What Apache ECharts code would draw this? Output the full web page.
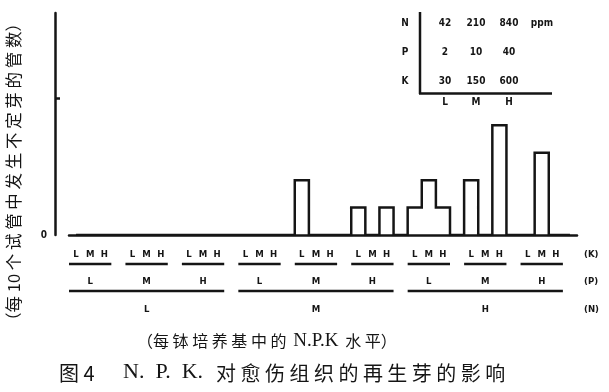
<!DOCTYPE html>
<html><head><meta charset="utf-8">
<script src="https://cdn.jsdelivr.net/npm/echarts@6/dist/echarts.min.js"></script>
<style>html,body{margin:0;padding:0;background:#fff}#c{width:609px;height:392px}</style>
</head><body><div id="c"></div>
<script>
// ---- data ----
const nLevelLabels = ['L', 'M', 'H'];
const pLevelLabels = ['L', 'M', 'H'];
const kLevelLabels = ['L', 'M', 'H'];
// tubes (of 10) forming adventitious buds; order P(L,M,H) x K(L,M,H)
const shootsNL = [0, 0, 0,  0, 0, 0,  0, 0, 0];
const shootsNM = [0, 0, 0,  2, 0, 0,  1, 0, 1];
const shootsNH = [1, 2, 1,  2, 0, 4,  0, 3, 0];
const nConc = ['42', '210', '840'];
const pConc = ['2', '10', '40'];
const kConc = ['30', '150', '600'];
const concUnit = 'ppm';
const yTickValues = [5];
const yLabelValues = [0];
const yName = '（每 10 个 试 管 中 发 生 不 定 芽 的 管 数）';
const subtitle = '{c|（每 钵 培 养 基 中 的}  {l|N.P.K}  {c|水 平）}';
const titleFig = '图 4';
const titleNPK = 'N.  P.  K.';
const titleText = '对 愈 伤 组 织 的 再 生 芽 的 影 响';

// ---- build categories (3 K levels per P group + spacer) ----
const byN = [shootsNL, shootsNM, shootsNH];
const cats = [], vals = [];
byN.forEach(arr => {
  for (let p = 0; p < 3; p++) {
    for (let k = 0; k < 3; k++) { cats.push(kLevelLabels[k]); vals.push(arr[p * 3 + k]); }
    cats.push(''); vals.push(0);
  }
});

const INK = '#151515';
const CJK = '"Noto Sans CJK SC", sans-serif';
const COND = '"DejaVu Sans Condensed", "DejaVu Sans", sans-serif';
const SERIF = '"Liberation Serif", "DejaVu Serif", serif';

const chart = echarts.init(document.getElementById('c'), null, {renderer: 'canvas'});
chart.setOption({
  backgroundColor: '#fff',
  animation: false,
  grid: {left: 69, right: 32, top: 13, bottom: 157},
  xAxis: {
    type: 'category', data: cats, boundaryGap: true,
    axisLine: {lineStyle: {color: INK, width: 2.5}},
    axisTick: {show: false},
    axisLabel: {interval: 0, margin: 15, color: INK, fontSize: 9.5, fontWeight: 'bold', fontFamily: COND}
  },
  yAxis: {
    type: 'value', min: 0, max: 8.1, offset: 14,
    axisLine: {show: true, lineStyle: {color: INK, width: 2.5}},
    axisTick: {show: true, inside: true, length: 5, customValues: yTickValues, lineStyle: {color: INK, width: 2.5}},
    axisLabel: {customValues: yLabelValues, color: INK, fontSize: 10, fontWeight: 'bold', margin: 8, fontFamily: COND},
    splitLine: {show: false}
  },
  series: [{
    type: 'line', step: 'middle', data: vals, symbol: 'none', z: 3,
    lineStyle: {color: INK, width: 2.5, join: 'miter'}
  }]
});

// ---- annotation graphics positioned through the category scale ----
const px = i => chart.convertToPixel({xAxisIndex: 0}, i);
const catW = px(1) - px(0);
const g = [];
function txt(x, y, text, size, font, weight, align, extra) {
  return Object.assign({
    type: 'text', x: x, y: y, silent: true,
    style: {text: text, fontSize: size, fontFamily: font, fontWeight: weight || 'normal', fill: INK,
      align: align || 'center', textAlign: align || 'center', verticalAlign: 'middle', textVerticalAlign: 'middle'}
  }, extra || {});
}
function ln(x1, y1, x2, y2, w) {
  return {type: 'line', silent: true, shape: {x1: x1, y1: y1, x2: x2, y2: y2}, style: {stroke: INK, lineWidth: w || 2.5}};
}
const yKLine = 264, yPLab = 282, yPLine = 291, yNLab = 310;
for (let n = 0; n < 3; n++) {
  for (let p = 0; p < 3; p++) {
    const s = n * 12 + p * 4;
    g.push(ln(px(s) - catW / 2, yKLine, px(s + 2) + catW / 2, yKLine));
    g.push(txt(px(s + 1), yPLab, pLevelLabels[p], 9.5, COND, 'bold'));
  }
  g.push(ln(px(n * 12) - catW / 2, yPLine, px(n * 12 + 10) + catW / 2, yPLine));
  g.push(txt(px(n * 12 + 5), yNLab, nLevelLabels[n], 9.5, COND, 'bold'));
}
g.push(txt(584, 255, '(K)', 9.5, COND, 'bold', 'left'));
g.push(txt(584, yPLab, '(P)', 9.5, COND, 'bold', 'left'));
g.push(txt(584, yNLab, '(N)', 9.5, COND, 'bold', 'left'));

// inset table of concentrations
const colX = [445, 476, 509];
const rowY = [23, 52, 81];
g.push(ln(420, 12, 420, 94));
g.push(ln(419, 93.5, 552, 93.5));
[['N', nConc], ['P', pConc], ['K', kConc]].forEach((r, i) => {
  g.push(txt(405, rowY[i], r[0], 10, COND, 'bold'));
  r[1].forEach((v, j) => g.push(txt(colX[j], rowY[i], v, 10, COND, 'bold')));
});
g.push(txt(542, rowY[0], concUnit, 10, COND, 'bold'));
kLevelLabels.forEach((l, j) => g.push(txt(colX[j], 102, l, 10, COND, 'bold')));

// axis name, subtitle, caption
g.push(txt(14, 172, yName, 16.5, CJK, 'normal', 'center', {rotation: Math.PI / 2}));
g.push({
  type: 'text', x: 137, y: 341, silent: true,
  style: {text: subtitle, align: 'left', textAlign: 'left', verticalAlign: 'middle', textVerticalAlign: 'middle', fill: INK,
    rich: {c: {fontSize: 16, fontFamily: CJK, fill: INK}, l: {fontSize: 19, fontFamily: SERIF, fill: INK}}}
});
g.push(txt(59, 373, titleFig, 20, CJK, 'normal', 'left'));
g.push(txt(123, 372, titleNPK, 22, SERIF, 'normal', 'left'));
g.push(txt(216, 373, titleText, 20, CJK, 'normal', 'left'));

chart.setOption({graphic: {elements: g}});
</script>
</body></html>
